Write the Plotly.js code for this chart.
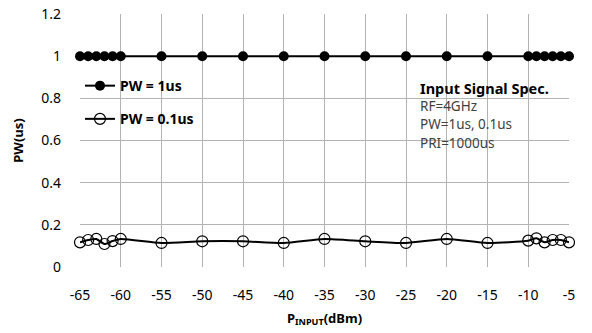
<!DOCTYPE html>
<html>
<head>
<meta charset="utf-8">
<script src="https://cdn.plot.ly/plotly-3.0.1.min.js"></script>
<style>html,body{margin:0;padding:0;background:#fff;}#chart{width:592px;height:333px;}</style>
</head>
<body>
<div id="chart"></div>
<script>
var xInput = [-65, -64, -63, -62, -61, -60, -55, -50, -45, -40, -35, -30, -25, -20, -15, -10, -9, -8, -7, -6, -5];
var pw1us = [1, 1, 1, 1, 1, 1, 1, 1, 1, 1, 1, 1, 1, 1, 1, 1, 1, 1, 1, 1, 1];
var pw01us = [0.117, 0.128, 0.133, 0.109, 0.123, 0.133, 0.114, 0.122, 0.122, 0.114, 0.133, 0.122, 0.114, 0.133, 0.114, 0.125, 0.136, 0.117, 0.128, 0.128, 0.117];
var xTicks = [-65, -60, -55, -50, -45, -40, -35, -30, -25, -20, -15, -10, -5];
var yTicks = [0, 0.2, 0.4, 0.6, 0.8, 1, 1.2];
var yTickText = ['0', '0.2', '0.4', '0.6', '0.8', '1', '1.2'];
var specLines = ['<b>Input Signal Spec.</b>', 'RF=4GHz', 'PW=1us, 0.1us', 'PRI=1000us'];

var font = '"Noto Sans", "Noto Sans CJK KR", sans-serif';

var traces = [
  {x: xInput, y: pw1us, name: '<b>PW = 1us</b>', mode: 'lines+markers', legendgroup: 'a', cliponaxis: false,
   line: {color: '#000', width: 2, shape: 'spline'},
   marker: {symbol: 'circle', size: 10, color: '#000'}},
  {x: xInput, y: pw01us, name: '<b>PW = 0.1us</b>', mode: 'lines+markers', legendgroup: 'b', cliponaxis: false,
   line: {color: '#000', width: 2, shape: 'spline', smoothing: 0.6},
   marker: {symbol: 'circle-open', size: 11, color: '#000', line: {width: 1.2}}}
];

var layout = {
  width: 592, height: 333,
  margin: {l: 80, r: 23, t: 14, b: 66},
  paper_bgcolor: '#fff', plot_bgcolor: '#fff',
  font: {family: font, size: 13, color: '#000'},
  showlegend: true,
  legend: {x: 0.0, y: 0.65, xanchor: 'left', yanchor: 'middle', bgcolor: 'rgba(0,0,0,0)',
           font: {family: font, size: 14, color: '#000'}, traceorder: 'grouped', tracegroupgap: 12,
           itemwidth: 30},
  xaxis: {range: [-65, -5], tickvals: xTicks, ticktext: xTicks.map(String), showgrid: true,
          gridcolor: '#b3b3b3', gridwidth: 1, zeroline: false, showline: false, ticks: '',
          ticklabelstandoff: 18, tickfont: {family: font, size: 14, color: '#000'},
          title: {text: '<b>P<sub>INPUT</sub>(dBm)</b>', font: {family: font, size: 13, color: '#000'}, standoff: 10}},
  yaxis: {range: [0, 1.2], tickvals: yTicks, ticktext: yTickText, showgrid: true,
          gridcolor: '#b3b3b3', gridwidth: 1, zeroline: false, showline: false, ticks: '',
          ticklabelstandoff: 18, tickfont: {family: font, size: 14, color: '#000'},
          title: {text: '<b>PW(us)</b>', font: {family: font, size: 13, color: '#000'}, standoff: 14}},
  annotations: specLines.map(function (t, i) {
    return {xref: 'paper', yref: 'paper', x: 0.692, y: 0.708 - i * 0.072, xanchor: 'left', yanchor: 'middle',
            text: t, showarrow: false, font: {family: font, size: i === 0 ? 14.5 : 13.5, color: i === 0 ? '#000' : '#404040'}};
  })
};

Plotly.newPlot('chart', traces, layout, {staticPlot: true, displayModeBar: false});
</script>
</body>
</html>
